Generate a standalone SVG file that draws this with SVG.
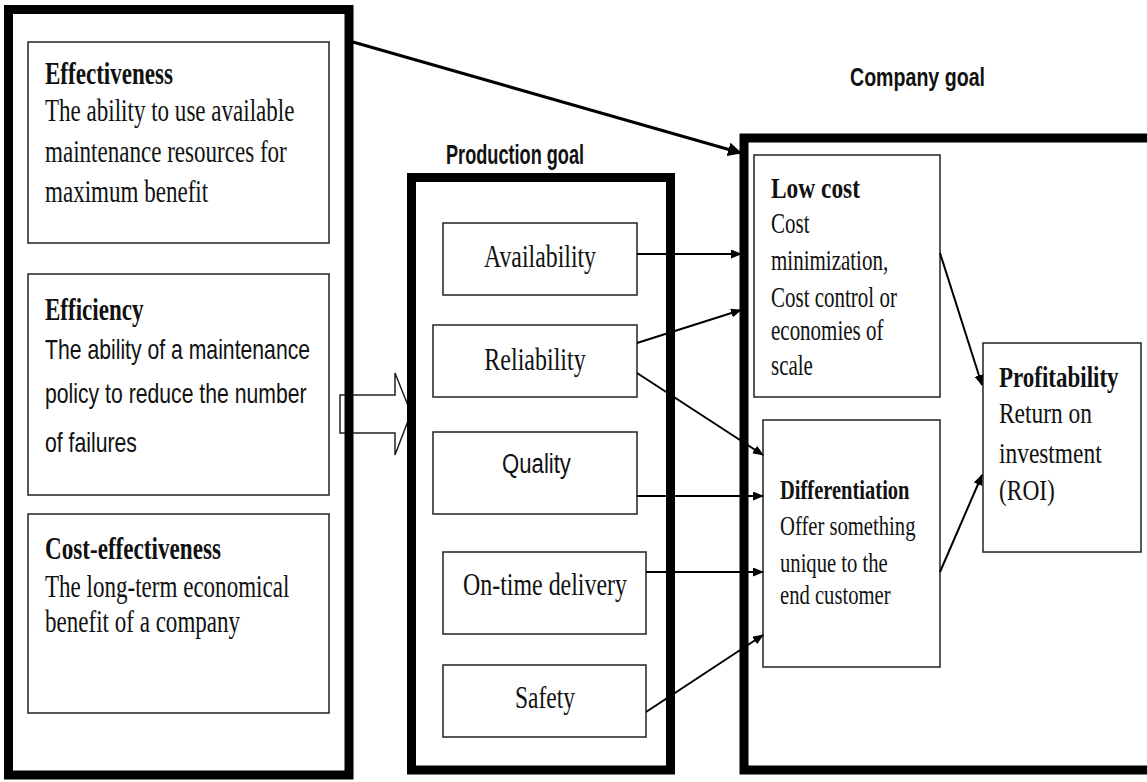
<svg xmlns="http://www.w3.org/2000/svg" width="1147" height="782" viewBox="0 0 1147 782">
<style>
.bg{fill:#fff}
.outer{fill:none;stroke:#000;stroke-width:9}
.box{fill:#fff;stroke:#222;stroke-width:1.5}
.conn{fill:none;stroke:#000;stroke-width:2}
.big{fill:none;stroke:#000;stroke-width:3}
.blk{fill:#fff;stroke:#222;stroke-width:1.5}
.s{font-family:"Liberation Serif","Times New Roman",serif;fill:#111}
.b{font-weight:bold}
.ss{font-family:"Liberation Sans",Arial,sans-serif;fill:#111}
.f32{font-size:32px}
.f30{font-size:30px}
.f27{font-size:27px}
.f28{font-size:28px}
.m{text-anchor:middle}
</style>
<defs>
<marker id="ah" markerUnits="userSpaceOnUse" markerWidth="11" markerHeight="9" refX="10" refY="4.5" orient="auto">
<path d="M0,0 L11,4.5 L0,9 z" fill="#000"/>
</marker>
<marker id="ahb" markerUnits="userSpaceOnUse" markerWidth="14" markerHeight="14" refX="13" refY="7" orient="auto">
<path d="M0,0 L14,7 L0,14 z" fill="#000"/>
</marker>
</defs>
<rect class="bg" x="0" y="0" width="1147" height="782"/>

<g id="block-arrow">
<polygon class="blk" points="340,395 395,395 395,373 411,413 395,455 395,433 340,433"/>
</g>

<g id="maintenance-goals">
<rect class="outer" x="8.5" y="9.5" width="340.5" height="765.5"/>
</g>

<g id="effectiveness">
<rect class="box" x="28" y="42" width="301" height="201"/>
<text class="s b f32" transform="translate(45,84) scale(0.72,1)">Effectiveness</text>
<text class="s f32" transform="translate(45,121) scale(0.72,1)">The ability to use available</text>
<text class="s f32" transform="translate(45,162) scale(0.72,1)">maintenance resources for</text>
<text class="s f32" transform="translate(45,202) scale(0.72,1)">maximum benefit</text>
</g>

<g id="efficiency">
<rect class="box" x="28" y="274" width="301" height="221"/>
<text class="s b f32" transform="translate(45,320) scale(0.72,1)">Efficiency</text>
<text class="ss f28" transform="translate(45,359) scale(0.757,1)">The ability of a maintenance</text>
<text class="ss f28" transform="translate(45,403) scale(0.757,1)">policy to reduce the number</text>
<text class="ss f28" transform="translate(45,452) scale(0.757,1)">of failures</text>
</g>

<g id="cost-effectiveness">
<rect class="box" x="28" y="514" width="301" height="199"/>
<text class="s b f32" transform="translate(45,559) scale(0.723,1)">Cost-effectiveness</text>
<text class="s f32" transform="translate(45,597) scale(0.72,1)">The long-term economical</text>
<text class="s f32" transform="translate(45,632) scale(0.72,1)">benefit of a company</text>
</g>

<g id="production-goal">
<rect class="outer" x="411.5" y="177.5" width="259" height="592.5"/>
<text class="ss b" font-size="27" transform="translate(446,164) scale(0.672,1)">Production goal</text>
</g>

<g id="availability">
<rect class="box" x="443" y="223" width="194" height="72"/>
<text class="s f32 m" transform="translate(540,267) scale(0.745,1)">Availability</text>
</g>
<g id="reliability">
<rect class="box" x="433" y="325" width="204" height="72"/>
<text class="s f32 m" transform="translate(535,370) scale(0.75,1)">Reliability</text>
</g>
<g id="quality">
<rect class="box" x="433" y="432" width="204" height="82"/>
<text class="ss f28 m" transform="translate(536.5,473) scale(0.79,1)">Quality</text>
</g>
<g id="on-time-delivery">
<rect class="box" x="443" y="552" width="203" height="82"/>
<text class="s f32 m" transform="translate(545,595) scale(0.747,1)">On-time delivery</text>
</g>
<g id="safety">
<rect class="box" x="443" y="665" width="203" height="72"/>
<text class="s f32 m" transform="translate(545,708) scale(0.735,1)">Safety</text>
</g>

<g id="company-goal">
<rect class="outer" x="744" y="138" width="420" height="632"/>
<text class="ss b" font-size="25" transform="translate(850,86) scale(0.784,1)">Company goal</text>
</g>

<g id="low-cost">
<rect class="box" x="754" y="155" width="186" height="242"/>
<text class="s b f30" transform="translate(771,198) scale(0.78,1)">Low cost</text>
<text class="s f30" transform="translate(771,233) scale(0.7,1)">Cost</text>
<text class="s f30" transform="translate(771,270) scale(0.7,1)">minimization,</text>
<text class="s f30" transform="translate(771,307) scale(0.7,1)">Cost control or</text>
<text class="s f30" transform="translate(771,340) scale(0.7,1)">economies of</text>
<text class="s f30" transform="translate(771,375) scale(0.7,1)">scale</text>
</g>

<g id="differentiation">
<rect class="box" x="763" y="420" width="177" height="247"/>
<text class="s b f27" transform="translate(780,499) scale(0.76,1)">Differentiation</text>
<text class="s f27" transform="translate(780,535) scale(0.765,1)">Offer something</text>
<text class="s f27" transform="translate(780,572) scale(0.765,1)">unique to the</text>
<text class="s f27" transform="translate(780,604) scale(0.765,1)">end customer</text>
</g>

<g id="profitability">
<rect class="box" x="983" y="343" width="158" height="209"/>
<text class="s b f30" transform="translate(999,387) scale(0.766,1)">Profitability</text>
<text class="s f30" transform="translate(999,423) scale(0.78,1)">Return on</text>
<text class="s f30" transform="translate(999,463) scale(0.78,1)">investment</text>
<text class="s f30" transform="translate(999,500) scale(0.78,1)">(ROI)</text>
</g>

<g id="connectors">
<line class="big" x1="353" y1="42" x2="741" y2="153" marker-end="url(#ahb)"/>
<line class="conn" x1="637" y1="254" x2="741" y2="254" marker-end="url(#ah)"/>
<line class="conn" x1="637" y1="343" x2="741" y2="310" marker-end="url(#ah)"/>
<line class="conn" x1="637" y1="373" x2="763" y2="455" marker-end="url(#ah)"/>
<line class="conn" x1="637" y1="496" x2="763" y2="496" marker-end="url(#ah)"/>
<line class="conn" x1="646" y1="572" x2="763" y2="572" marker-end="url(#ah)"/>
<line class="conn" x1="646" y1="712" x2="763" y2="635" marker-end="url(#ah)"/>
<line class="conn" x1="940" y1="253" x2="982" y2="385" marker-end="url(#ah)"/>
<line class="conn" x1="940" y1="572" x2="982" y2="475" marker-end="url(#ah)"/>
</g>
</svg>
